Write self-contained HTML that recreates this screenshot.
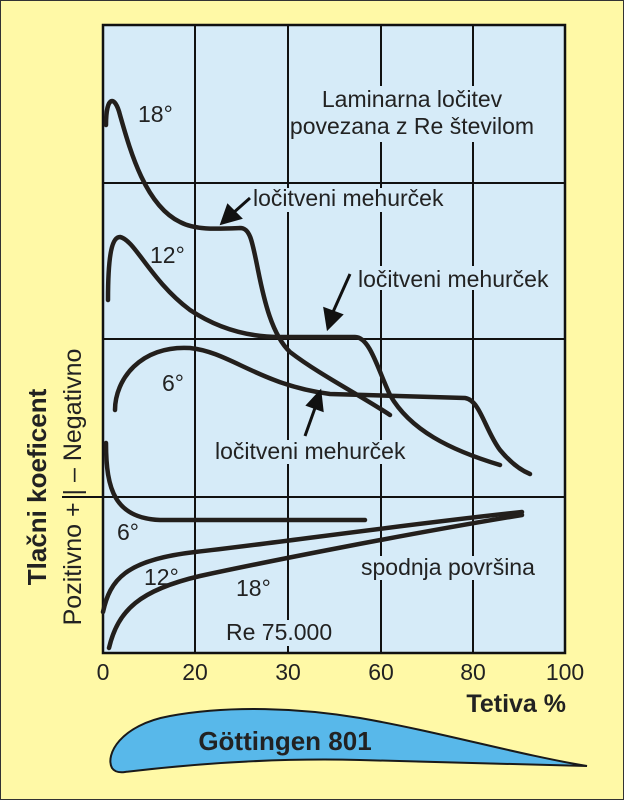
<!DOCTYPE html>
<html><head><meta charset="utf-8"><style>
html,body{margin:0;padding:0;background:#fff9a6;}
svg{display:block;font-family:"Liberation Sans",Arial,sans-serif;}
</style></head><body>
<svg width="624" height="800" viewBox="0 0 624 800" xmlns="http://www.w3.org/2000/svg">
<rect x="0" y="0" width="624" height="800" fill="#fff9a6" stroke="#333" stroke-width="2"/>
<rect x="103" y="25" width="462" height="628" fill="#d6ebf8"/>
<g stroke="#111" stroke-width="2" fill="none">
<line x1="195" y1="25" x2="195" y2="653"/>
<line x1="288" y1="25" x2="288" y2="653"/>
<line x1="381" y1="25" x2="381" y2="653"/>
<line x1="473" y1="25" x2="473" y2="653"/>
<line x1="103" y1="183" x2="565" y2="183"/>
<line x1="103" y1="339" x2="565" y2="339"/>
<line x1="62" y1="497" x2="565" y2="497"/>
</g>
<g fill="#d6ebf8">
<rect x="304" y="86" width="218" height="56"/>
<rect x="250" y="188" width="196" height="24"/>
<rect x="355" y="266" width="200" height="24"/>
<rect x="212" y="440" width="196" height="24"/>
<rect x="358" y="556" width="186" height="24"/>
<rect x="222" y="620" width="126" height="26"/>
</g>
<rect x="103" y="25" width="462" height="628" fill="none" stroke="#111" stroke-width="2.5"/>
<g stroke="#231f1c" stroke-width="4.5" fill="none" stroke-linecap="round">
<path d="M106,125 C106,95 115,95 120,115 C130,150 145,205 180,222 C195,230 215,229 240,228 C250,228 252,240 258,270 C264,300 272,335 290,352 C320,375 360,395 390,415"/>
<path d="M108,300 C108,250 113,237 120,237 C135,240 150,280 190,310 C220,330 250,337 280,337 L355,337 C370,337 378,370 390,395 C410,430 450,450 500,465"/>
<path d="M115,410 C115,380 140,345 190,348 C230,352 260,385 330,394 L465,398 C480,400 485,430 500,450 C510,462 520,470 530,474"/>
<path d="M106,443 C106,490 115,518 160,520 L365,520"/>
<path d="M103,612 C110,580 125,560 195,552 C260,545 400,525 522,512"/>
<path d="M109,648 C118,610 140,590 200,576 C260,563 400,535 522,515"/>
</g>
<g stroke="#111" stroke-width="3" fill="#111">
<line x1="250" y1="198" x2="232" y2="214"/>
<polygon points="222,223 228,206 240,218"/>
<line x1="350" y1="274" x2="333" y2="312"/>
<polygon points="328,328 325,309 341,315"/>
<line x1="305" y1="436" x2="315" y2="408"/>
<polygon points="320,392 308,405 322,410"/>
</g>
<g fill="#222" font-size="23">
<text x="412" y="107" text-anchor="middle">Laminarna ločitev</text>
<text x="412" y="134" text-anchor="middle">povezana z Re številom</text>
<text x="253" y="206">ločitveni mehurček</text>
<text x="358" y="287">ločitveni mehurček</text>
<text x="215" y="459">ločitveni mehurček</text>
<text x="361" y="575">spodnja površina</text>
<text x="226" y="640">Re 75.000</text>
<text x="138" y="122">18°</text>
<text x="150" y="263">12°</text>
<text x="162" y="391">6°</text>
<text x="117" y="540">6°</text>
<text x="144" y="585">12°</text>
<text x="236" y="596">18°</text>
<text x="103" y="680" text-anchor="middle">0</text>
<text x="195" y="680" text-anchor="middle">20</text>
<text x="288" y="680" text-anchor="middle">30</text>
<text x="381" y="680" text-anchor="middle">60</text>
<text x="473" y="680" text-anchor="middle">80</text>
<text x="565" y="680" text-anchor="middle">100</text>
<text x="566" y="712" text-anchor="end" font-weight="bold" font-size="25">Tetiva %</text>
<text transform="translate(46,487) rotate(-90)" text-anchor="middle" font-weight="bold" font-size="26">Tlačni koeficent</text>
<text transform="translate(81,487) rotate(-90)" text-anchor="middle" font-size="25">Pozitivno +  |  – Negativno</text>
</g>
<path d="M112,768 C105,755 120,725 170,716 C230,705 300,708 360,718 C440,732 520,755 587,766 C520,764 440,762 360,760 C280,758 200,763 125,772 C118,773 114,771 112,768 Z" fill="#58b8ea" stroke="#1a1a1a" stroke-width="2"/>
<text x="285" y="750" text-anchor="middle" font-weight="bold" font-size="26" fill="#222">Göttingen 801</text>
</svg>
</body></html>
